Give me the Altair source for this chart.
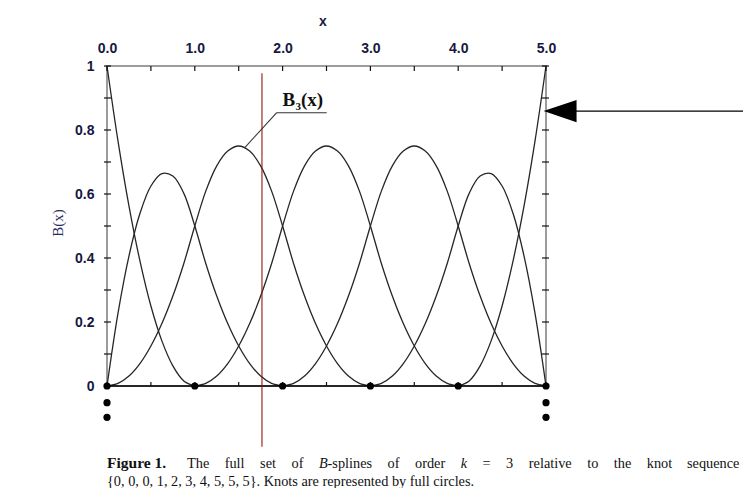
import altair as alt
import pandas as pd

# ---------------- data ----------------
CURVE_NAMES = ["B1", "B2", "B3", "B4", "B5", "B6", "B7"]
CURVE_START = [0, 0, 0, 1, 2, 3, 4]          # x where each sampled curve starts
SAMPLE_STEP = 0.125                           # spacing of the read samples along x
B1 = [1.000, 0.766, 0.563, 0.391, 0.250, 0.141, 0.063, 0.016, 0.000]
B2 = [0.000, 0.227, 0.406, 0.539, 0.625, 0.664, 0.656, 0.602, 0.500,
      0.383, 0.281, 0.195, 0.125, 0.070, 0.031, 0.008, 0.000]
B3 = [0.000, 0.008, 0.031, 0.070, 0.125, 0.195, 0.281, 0.383, 0.500,
      0.609, 0.688, 0.734, 0.750, 0.734, 0.688, 0.609, 0.500,
      0.383, 0.281, 0.195, 0.125, 0.070, 0.031, 0.008, 0.000]
B4 = [0.000, 0.008, 0.031, 0.070, 0.125, 0.195, 0.281, 0.383, 0.500,
      0.609, 0.688, 0.734, 0.750, 0.734, 0.688, 0.609, 0.500,
      0.383, 0.281, 0.195, 0.125, 0.070, 0.031, 0.008, 0.000]
B5 = [0.000, 0.008, 0.031, 0.070, 0.125, 0.195, 0.281, 0.383, 0.500,
      0.609, 0.688, 0.734, 0.750, 0.734, 0.688, 0.609, 0.500,
      0.383, 0.281, 0.195, 0.125, 0.070, 0.031, 0.008, 0.000]
B6 = [0.000, 0.008, 0.031, 0.070, 0.125, 0.195, 0.281, 0.383, 0.500,
      0.602, 0.656, 0.664, 0.625, 0.539, 0.406, 0.227, 0.000]
B7 = [0.000, 0.016, 0.063, 0.141, 0.250, 0.391, 0.563, 0.766, 1.000]
CURVES = [B1, B2, B3, B4, B5, B6, B7]

KNOT_X = [0, 1, 2, 3, 4, 5, 0, 0, 5, 5]
KNOT_Y = [0, 0, 0, 0, 0, 0, -0.052, -0.098, -0.052, -0.098]

X_LABELS = [0, 1, 2, 3, 4, 5]
Y_LABELS = [0, 0.2, 0.4, 0.6, 0.8, 1.0]
X_TICKS = [0, 0.5, 1, 1.5, 2, 2.5, 3, 3.5, 4, 4.5, 5]
Y_TICKS = [0, 0.1, 0.2, 0.3, 0.4, 0.5, 0.6, 0.7, 0.8, 0.9, 1.0]

MARKER_X = [1.765]
MARKER_Y = [0.977]
MARKER_Y2 = [-0.19]

# annotation B3(x): underline and leader to the curve
LEADER_X = [1.933, 1.933]
LEADER_Y = [0.854, 0.854]
LEADER_X2 = [2.502, 1.572]
LEADER_Y2 = [0.854, 0.746]

# arrow on the right
ARROW_Y = [0.859]
ARROW_HEAD_X = [5.16]
ARROW_LINE_X = [5.33]
ARROW_LINE_X2 = [7.6]

CAPTION_2 = "{0, 0, 0, 1, 2, 3, 4, 5, 5, 5}. Knots are represented by full circles."

# ---------------- layout ----------------
W, H = 439, 320
PAD_L, PAD_T = 99, 58
LABEL_COLOR = "#17173f"

rows = []
for name, start, ys in zip(CURVE_NAMES, CURVE_START, CURVES):
    for i, v in enumerate(ys):
        rows.append({"curve": name, "x": start + i * SAMPLE_STEP, "y": v})
curve_df = pd.DataFrame(rows)

xscale = alt.Scale(domain=[0, 5], nice=False, zero=False)
yscale = alt.Scale(domain=[0, 1], nice=False, zero=False)
XAX = alt.Axis(
    orient="top", values=X_LABELS, format=".1f", domain=False, ticks=False,
    tickSize=0, grid=False, labelFlush=False, labelFont="Liberation Sans",
    labelFontSize=14, labelFontWeight="bold", labelColor=LABEL_COLOR,
    labelPadding=11, title=None)
YAX = alt.Axis(
    orient="left", values=Y_LABELS, format=".1~f", domain=False, ticks=False,
    tickSize=0, grid=False, labelFont="Liberation Sans", labelFontSize=14,
    labelFontWeight="bold", labelColor=LABEL_COLOR, labelPadding=13,
    title=None)
one = pd.DataFrame({"a": [0]})


def X(f="x"):
    return alt.X(f"{f}:Q", scale=xscale, axis=XAX)


def Y(f="y"):
    return alt.Y(f"{f}:Q", scale=yscale, axis=YAX)


curves = alt.Chart(curve_df).mark_line(
    interpolate="catmull-rom", color="#262626", strokeWidth=1.3
).encode(x=X(), y=Y(), detail="curve:N")

xt = pd.DataFrame({"x": X_TICKS})
yt = pd.DataFrame({"y": Y_TICKS})
tick_style = dict(color="#111111", strokeWidth=1.2)
top_ticks = alt.Chart(xt).mark_rule(**tick_style).encode(x=X(), y=alt.value(0), y2=alt.value(5))
bot_ticks = alt.Chart(xt).mark_rule(**tick_style).encode(x=X(), y=alt.value(H), y2=alt.value(H - 4))
left_ticks = alt.Chart(yt).mark_rule(**tick_style).encode(y=Y(), x=alt.value(-3), x2=alt.value(4))
right_ticks = alt.Chart(yt).mark_rule(**tick_style).encode(y=Y(), x=alt.value(W - 4), x2=alt.value(W + 3))

bottom_line = alt.Chart(one).mark_rule(color="#000000", strokeWidth=1.6).encode(
    x=alt.value(0), x2=alt.value(W), y=alt.value(H))

marker = alt.Chart(pd.DataFrame({"x": MARKER_X, "y": MARKER_Y, "y2": MARKER_Y2})).mark_rule(
    color="#9e1010", strokeWidth=1.1).encode(x=X(), y=Y(), y2="y2:Q")

knots = alt.Chart(pd.DataFrame({"x": KNOT_X, "y": KNOT_Y})).mark_circle(
    color="#000000", opacity=1, size=52).encode(x=X(), y=Y())

leader = alt.Chart(pd.DataFrame({"x": LEADER_X, "y": LEADER_Y, "x2": LEADER_X2, "y2": LEADER_Y2})).mark_rule(
    color="#333333", strokeWidth=1.1).encode(x=X(), y=Y(), x2="x2:Q", y2="y2:Q")

arrow_line = alt.Chart(pd.DataFrame({"x": ARROW_LINE_X, "x2": ARROW_LINE_X2, "y": ARROW_Y})).mark_rule(
    color="#000000", strokeWidth=1.3).encode(x=X(), x2="x2:Q", y=Y())
arrow_head = alt.Chart(pd.DataFrame({"x": ARROW_HEAD_X, "y": ARROW_Y})).mark_point(
    shape="M-1,0L1,-0.68L1,0.68Z", filled=True, color="#000000", opacity=1, size=1089,
    strokeWidth=0).encode(x=X(), y=Y())


def txt(text, px, py, **kw):
    style = dict(align="left", baseline="alphabetic", color="#111111")
    style.update(kw)
    return alt.Chart(one).mark_text(**style).encode(
        x=alt.value(px), y=alt.value(py), text=alt.value(text))


texts = [
    txt("x", 216, -40, align="center", font="Liberation Sans", fontWeight="bold",
        fontSize=14, color=LABEL_COLOR),
    txt("B(x)", -49, 157, align="center", baseline="middle", angle=270,
        font="Liberation Serif", fontSize=15, color="#2a2a5c"),
    txt("B", 175.5, 40, font="Liberation Serif", fontWeight="bold", fontSize=19),
    txt("3", 188.5, 44, font="Liberation Serif", fontWeight="bold", fontSize=11),
    txt("(x)", 194, 40, font="Liberation Serif", fontWeight="bold", fontSize=19),
]

CAP_FS = 14.3
cap1 = [("Figure 1.", 107, "bold"), ("The", 187.0, ""), ("full", 224.7, ""),
        ("set", 260.1, ""), ("of", 291.5, ""), ("B", 318.9, "italic"),
        ("-splines", 327.6, ""), ("of", 387.6, ""), ("order", 415.0, ""),
        ("k", 460.7, "italic"), ("=", 482.5, ""), ("3", 506.1, ""),
        ("relative", 528.8, ""), ("to", 587.2, ""), ("the", 613.8, ""),
        ("knot", 646.8, ""), ("sequence", 687.0, "")]
for word, px, st in cap1:
    kw = dict(font="Liberation Serif", fontSize=CAP_FS)
    if st == "bold":
        kw["fontWeight"] = "bold"
        kw["fontSize"] = 15.5
    if st == "italic":
        kw["fontStyle"] = "italic"
    texts.append(txt(word, px - (PAD_L + 8), 402, **kw))
texts.append(txt(CAPTION_2, 0, 420, font="Liberation Serif", fontSize=CAP_FS))

chart = alt.layer(
    curves, bottom_line, top_ticks, bot_ticks, left_ticks, right_ticks,
    marker, knots, leader, arrow_line, arrow_head, *texts
).properties(
    width=W, height=H,
    autosize=alt.AutoSizeParams(type="none"),
    padding={"left": PAD_L, "top": PAD_T, "right": 735 - PAD_L - W, "bottom": 480 - PAD_T - H},
    background="#ffffff",
).configure_view(stroke="#9c9c9c", strokeWidth=2)

chart.save("out.html", embed_options={"renderer": "svg", "actions": False})
